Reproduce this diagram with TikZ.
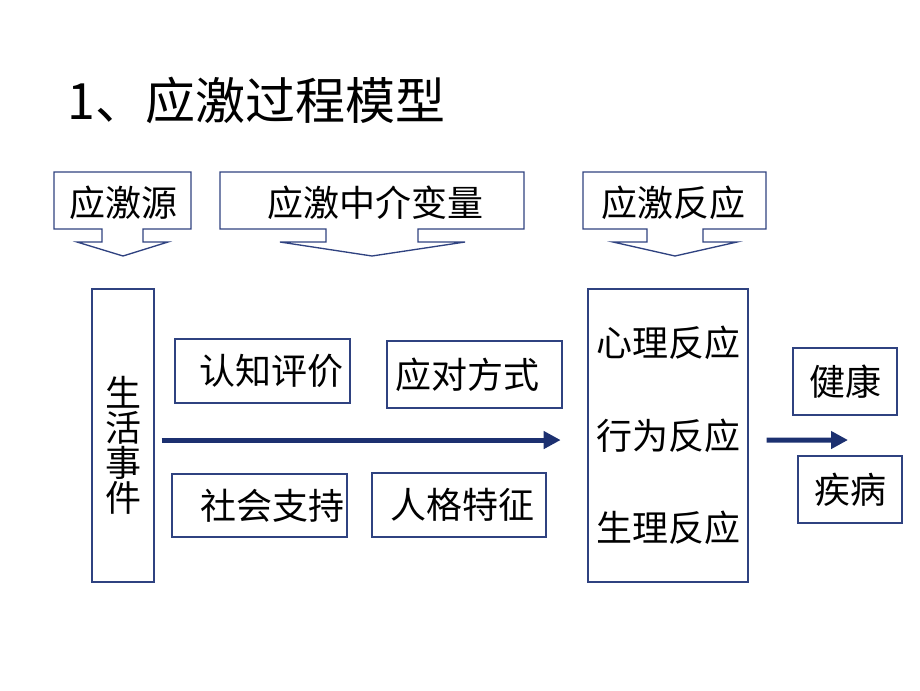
\documentclass[tikz,border=0pt]{standalone}
\usepackage{fontspec}
\setmainfont{Noto Sans CJK SC}
\usetikzlibrary{arrows.meta}

\newlength\pxu
\setlength\pxu{0.75pt}
\definecolor{boxline}{RGB}{47,66,128}
\definecolor{flowblue}{RGB}{28,48,112}

\begin{document}
\begin{tikzpicture}[x=\pxu,y=-\pxu,
  box/.style={draw=boxline,line width=1pt,inner sep=0pt,font=\fontsize{27}{32}\selectfont},
  tag/.style={inner sep=0pt,font=\fontsize{27}{32}\selectfont},
  callout/.style={draw=boxline,line width=1pt,line join=miter},
  flow/.style={draw=flowblue,line width=3.75pt,-{Triangle[length=12.75pt,width=12.75pt]}}]
\useasboundingbox (0,0) rectangle (920,690);

% title
\node[anchor=west,inner sep=0pt,font=\fontsize{37.5}{40}\selectfont] (title) at (67,100) {1、应激过程模型};

% down arrow callouts
\draw[callout] (54,172) -- (191,172) -- (191,229) -- (143,229) -- (143,242) -- (168,242)
  -- (123,256) -- (77,242) -- (102,242) -- (102,229) -- (54,229) -- cycle;
\draw[callout] (220,172) -- (524,172) -- (524,229) -- (418,229) -- (418,242) -- (465,242)
  -- (372,256) -- (280,242) -- (326,242) -- (326,229) -- (220,229) -- cycle;
\draw[callout] (583,172) -- (766,172) -- (766,229) -- (703,229) -- (703,242) -- (737,242)
  -- (675,256) -- (613,242) -- (647,242) -- (647,229) -- (583,229) -- cycle;
\node[tag] (source) at (123,203) {应激源};
\node[tag] (mediator) at (375,203) {应激中介变量};
\node[tag] (reaction) at (673,203) {应激反应};

% life events
\node[box,minimum width=62\pxu,minimum height=293\pxu] (life) at (123,435.5) {};
\node[tag,align=center,font=\fontsize{27}{26.25}\selectfont] (lifetext) at (123,445) {生\\活\\事\\件};

% mediators
\node[box,minimum width=175\pxu,minimum height=64\pxu] (appraisal) at (262.5,371) {\hspace*{14pt}认知评价};
\node[box,minimum width=175\pxu,minimum height=67\pxu] (coping) at (474.5,374.5) {应对方式\hspace*{10pt}};
\node[box,minimum width=175\pxu,minimum height=63\pxu] (support) at (259.5,505.5) {\hspace*{19pt}社会支持};
\node[box,minimum width=174\pxu,minimum height=64\pxu] (personality) at (459,505) {\hspace*{5pt}人格特征};

% reactions
\node[box,minimum width=160\pxu,minimum height=293\pxu,align=center,
  font=\fontsize{27}{69.4}\selectfont] (resp) at (668,435.5) {心理反应\\行为反应\\生理反应};

% outcomes
\node[box,minimum width=104\pxu,minimum height=67\pxu] (health) at (845,381.5) {健康};
\node[box,minimum width=104\pxu,minimum height=67\pxu] (disease) at (850,489.5) {疾病};
\coordinate (split) at (848,440);

% flow
\draw[flow,shorten <=5.25pt,shorten >=20pt] ([yshift=-3.4pt]life.east) -- ([yshift=-3.4pt]resp.west);
\draw[flow,shorten <=13.5pt] ([yshift=-3.4pt]resp.east) -- (split);
\end{tikzpicture}
\end{document}
